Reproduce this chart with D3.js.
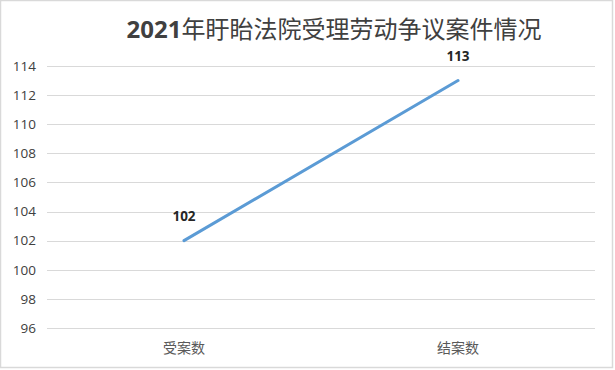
<!DOCTYPE html>
<html>
<head>
<meta charset="utf-8">
<script src="https://cdn.jsdelivr.net/npm/d3@7"></script>
<style>
  body { margin: 0; background: #fff; }
  svg { display: block; }
</style>
</head>
<body>
<div id="chart"></div>
<script>
// data
const categories = ["受案数", "结案数"];
const values = [102, 113];
const yTicks = [96, 98, 100, 102, 104, 106, 108, 110, 112, 114];
const title = "2021年盱眙法院受理劳动争议案件情况";

const W = 615, H = 370;
const margin = { top: 66, right: 20, bottom: 42, left: 47 };

const svg = d3.select("#chart").append("svg")
    .attr("width", W)
    .attr("height", H);

// frame
svg.append("rect")
    .attr("x", 0.5).attr("y", 0.5)
    .attr("width", W - 3).attr("height", H - 3)
    .attr("fill", "#fff")
    .attr("stroke", "#d9d9d9")
    .attr("stroke-width", 1.5);

let x = d3.scaleBand()
    .domain(categories)
    .range([margin.left, W - margin.right])
    .padding(0);

let y = d3.scaleLinear()
    .domain([96, 114])
    .range([328, 66]);

// gridlines
svg.append("g")
    .selectAll("line")
    .data(yTicks)
    .join("line")
    .attr("x1", margin.left)
    .attr("x2", W - margin.right)
    .attr("y1", d => Math.round(y(d)) + 0.5)
    .attr("y2", d => Math.round(y(d)) + 0.5)
    .attr("stroke", "#d9d9d9")
    .attr("stroke-width", 1);

// y labels
svg.append("g")
    .selectAll("text")
    .data(yTicks)
    .join("text")
    .attr("x", 36)
    .attr("y", d => y(d))
    .attr("dy", "0.35em")
    .attr("text-anchor", "end")
    .attr("font-family", "'Open Sans', 'DejaVu Sans', sans-serif")
    .attr("font-size", 13.5)
    .attr("fill", "#404040")
    .text(d => d);

// x labels
svg.append("g")
    .selectAll("text")
    .data(categories)
    .join("text")
    .attr("x", d => x(d) + x.bandwidth() / 2)
    .attr("y", 348)
    .attr("dy", "0.35em")
    .attr("text-anchor", "middle")
    .attr("font-family", "'Noto Sans CJK SC', sans-serif")
    .attr("font-size", 14)
    .attr("fill", "#595959")
    .text(d => d);

// line
const pts = categories.map((c, i) => [x(c) + x.bandwidth() / 2, y(values[i])]);
svg.append("path")
    .attr("d", d3.line()(pts))
    .attr("fill", "none")
    .attr("stroke", "#5b9bd5")
    .attr("stroke-width", 3)
    .attr("stroke-linecap", "round");

// data labels
svg.append("g")
    .selectAll("text")
    .data(values)
    .join("text")
    .attr("x", (d, i) => pts[i][0])
    .attr("y", (d, i) => pts[i][1] - 24)
    .attr("dy", "0.35em")
    .attr("text-anchor", "middle")
    .attr("font-family", "'Open Sans', 'DejaVu Sans', sans-serif")
    .attr("font-weight", "bold")
    .attr("font-size", 13.5)
    .attr("fill", "#262626")
    .text(d => d);

// title
const t = svg.append("text")
    .attr("x", 334)
    .attr("y", 30)
    .attr("dy", "0.35em")
    .attr("text-anchor", "middle")
    .attr("font-family", "'Open Sans', 'Noto Sans CJK SC', sans-serif")
    .attr("font-size", 24)
    .attr("fill", "#404040");
t.append("tspan").attr("font-weight", "bold").text(title.slice(0, 4));
t.append("tspan").attr("font-family", "'Noto Sans CJK SC', sans-serif").text(title.slice(4));
</script>
</body>
</html>
